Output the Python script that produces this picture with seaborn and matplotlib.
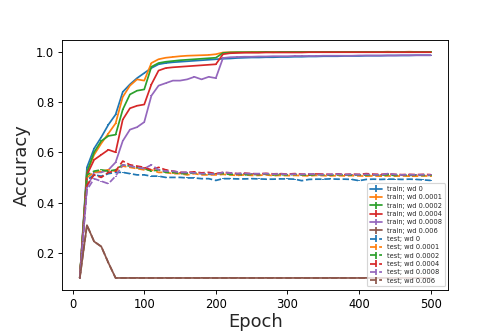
import numpy as np
import matplotlib
matplotlib.use("Agg")
import matplotlib.pyplot as plt
import seaborn as sns

epochs = np.arange(10, 501, 10)
weight_decays = ["0", "0.0001", "0.0002", "0.0004", "0.0008", "0.006"]

train_wd0 = [0.10, 0.54, 0.615, 0.66, 0.71, 0.75, 0.84, 0.87, 0.895, 0.915,
             0.935, 0.95, 0.955, 0.958, 0.96, 0.962, 0.964, 0.966, 0.968, 0.970,
             0.972, 0.973, 0.975, 0.976, 0.977, 0.977, 0.978, 0.978, 0.979, 0.979,
             0.980, 0.980, 0.981, 0.981, 0.982, 0.982, 0.982, 0.983, 0.983, 0.983,
             0.984, 0.984, 0.984, 0.985, 0.985, 0.985, 0.985, 0.986, 0.986, 0.986]
train_wd1 = [0.10, 0.52, 0.59, 0.635, 0.675, 0.715, 0.82, 0.865, 0.89, 0.885,
             0.955, 0.970, 0.976, 0.979, 0.982, 0.984, 0.985, 0.986, 0.987, 0.990,
             0.997, 0.998, 0.998, 0.998, 0.999, 0.999, 0.999, 0.999, 0.999, 0.999,
             0.999, 0.999, 0.999, 0.999, 0.999, 0.999, 0.999, 0.999, 0.999, 0.999,
             0.999, 0.999, 0.999, 1.000, 0.999, 0.999, 1.000, 0.999, 0.999, 0.999]
train_wd2 = [0.10, 0.52, 0.60, 0.645, 0.665, 0.67, 0.77, 0.83, 0.845, 0.85,
             0.94, 0.955, 0.96, 0.963, 0.966, 0.968, 0.970, 0.972, 0.974, 0.976,
             0.995, 0.997, 0.998, 0.998, 0.998, 0.998, 0.999, 0.998, 0.999, 0.999,
             0.999, 0.999, 0.999, 0.999, 0.999, 0.999, 0.999, 0.999, 0.999, 0.999,
             0.999, 0.999, 0.999, 0.999, 0.999, 0.999, 0.999, 0.999, 0.999, 0.999]
train_wd4 = [0.10, 0.51, 0.57, 0.59, 0.61, 0.60, 0.73, 0.775, 0.785, 0.79,
             0.87, 0.925, 0.935, 0.938, 0.94, 0.942, 0.944, 0.946, 0.948, 0.95,
             0.99, 0.994, 0.995, 0.996, 0.996, 0.996, 0.997, 0.997, 0.997, 0.997,
             0.997, 0.997, 0.998, 0.998, 0.998, 0.998, 0.998, 0.998, 0.998, 0.998,
             0.998, 0.998, 0.998, 0.998, 0.998, 0.998, 0.998, 0.998, 0.998, 0.998]
train_wd8 = [0.10, 0.46, 0.52, 0.52, 0.53, 0.56, 0.645, 0.69, 0.70, 0.72,
             0.825, 0.865, 0.875, 0.885, 0.885, 0.89, 0.90, 0.89, 0.90, 0.895,
             0.975, 0.978, 0.979, 0.98, 0.98, 0.981, 0.981, 0.982, 0.982, 0.982,
             0.983, 0.983, 0.983, 0.983, 0.984, 0.984, 0.984, 0.984, 0.984, 0.985,
             0.985, 0.985, 0.985, 0.985, 0.985, 0.986, 0.986, 0.986, 0.986, 0.986]
train_wd60 = [0.10, 0.31, 0.245, 0.225, 0.16, 0.10, 0.10, 0.10, 0.10, 0.10,
              0.10, 0.10, 0.10, 0.10, 0.10, 0.10, 0.10, 0.10, 0.10, 0.10,
              0.10, 0.10, 0.10, 0.10, 0.10, 0.10, 0.10, 0.10, 0.10, 0.10,
              0.10, 0.10, 0.10, 0.10, 0.10, 0.10, 0.10, 0.10, 0.10, 0.10,
              0.10, 0.10, 0.10, 0.10, 0.10, 0.10, 0.10, 0.10, 0.10, 0.10]

test_wd0 = [0.10, 0.49, 0.51, 0.505, 0.515, 0.52, 0.52, 0.515, 0.51, 0.51,
            0.505, 0.505, 0.50, 0.50, 0.50, 0.498, 0.498, 0.495, 0.495, 0.488,
            0.495, 0.495, 0.494, 0.494, 0.495, 0.494, 0.493, 0.493, 0.494, 0.494,
            0.493, 0.487, 0.492, 0.493, 0.493, 0.494, 0.493, 0.493, 0.492, 0.487,
            0.492, 0.493, 0.492, 0.493, 0.493, 0.492, 0.493, 0.492, 0.490, 0.488]
test_wd1 = [0.10, 0.50, 0.52, 0.525, 0.53, 0.525, 0.545, 0.54, 0.535, 0.53,
            0.53, 0.52, 0.52, 0.515, 0.515, 0.51, 0.515, 0.51, 0.51, 0.51,
            0.512, 0.51, 0.508, 0.51, 0.508, 0.508, 0.51, 0.507, 0.508, 0.507,
            0.508, 0.507, 0.506, 0.508, 0.507, 0.506, 0.507, 0.506, 0.507, 0.506,
            0.505, 0.506, 0.505, 0.506, 0.505, 0.506, 0.505, 0.505, 0.506, 0.505]
test_wd2 = [0.10, 0.51, 0.525, 0.53, 0.525, 0.53, 0.55, 0.545, 0.54, 0.535,
            0.525, 0.53, 0.52, 0.52, 0.515, 0.515, 0.518, 0.515, 0.512, 0.515,
            0.515, 0.512, 0.513, 0.51, 0.512, 0.511, 0.513, 0.51, 0.511, 0.51,
            0.512, 0.51, 0.509, 0.511, 0.51, 0.509, 0.511, 0.51, 0.509, 0.51,
            0.509, 0.51, 0.509, 0.51, 0.508, 0.509, 0.508, 0.509, 0.508, 0.508]
test_wd4 = [0.10, 0.47, 0.51, 0.50, 0.52, 0.525, 0.565, 0.55, 0.545, 0.54,
            0.53, 0.54, 0.53, 0.525, 0.52, 0.52, 0.522, 0.518, 0.52, 0.515,
            0.52, 0.518, 0.515, 0.517, 0.515, 0.514, 0.516, 0.514, 0.515, 0.513,
            0.515, 0.513, 0.512, 0.514, 0.513, 0.512, 0.514, 0.512, 0.513, 0.512,
            0.515, 0.513, 0.512, 0.514, 0.512, 0.511, 0.512, 0.511, 0.512, 0.511]
test_wd8 = [0.10, 0.45, 0.495, 0.485, 0.475, 0.505, 0.55, 0.545, 0.54, 0.535,
            0.55, 0.53, 0.525, 0.525, 0.52, 0.52, 0.518, 0.515, 0.515, 0.512,
            0.52, 0.518, 0.515, 0.516, 0.514, 0.515, 0.515, 0.513, 0.514, 0.512,
            0.513, 0.512, 0.514, 0.512, 0.511, 0.512, 0.513, 0.511, 0.512, 0.511,
            0.512, 0.511, 0.510, 0.515, 0.512, 0.510, 0.511, 0.510, 0.511, 0.510]
test_wd60 = [0.10, 0.31, 0.245, 0.225, 0.16, 0.10, 0.10, 0.10, 0.10, 0.10,
             0.10, 0.10, 0.10, 0.10, 0.10, 0.10, 0.10, 0.10, 0.10, 0.10,
             0.10, 0.10, 0.10, 0.10, 0.10, 0.10, 0.10, 0.10, 0.10, 0.10,
             0.10, 0.10, 0.10, 0.10, 0.10, 0.10, 0.10, 0.10, 0.10, 0.10,
             0.10, 0.10, 0.10, 0.10, 0.10, 0.10, 0.10, 0.10, 0.10, 0.10]

train_curves = [train_wd0, train_wd1, train_wd2, train_wd4, train_wd8, train_wd60]
test_curves = [test_wd0, test_wd1, test_wd2, test_wd4, test_wd8, test_wd60]
err = 0.002

sns.set_style("ticks")
colors = sns.color_palette("tab10", len(weight_decays))

fig, ax = plt.subplots(figsize=(6, 4), dpi=83)
fig.subplots_adjust(left=0.125, right=0.9, top=0.88, bottom=0.127)

for wd, acc, c in zip(weight_decays, train_curves, colors):
    ax.errorbar(epochs, acc, yerr=err, color=c, lw=1.5, label=f"train; wd {wd}")
for wd, acc, c in zip(weight_decays, test_curves, colors):
    ax.errorbar(epochs, acc, yerr=err, color=c, lw=1.5, ls="--", label=f"test; wd {wd}")

for s in ax.spines.values():
    s.set_color("black")
    s.set_linewidth(0.8)
ax.tick_params(colors="black", labelsize=10, length=3.5, width=0.8)
ax.set_xlabel("Epoch", fontsize=15.5, labelpad=2)
ax.set_ylabel("Accuracy", fontsize=15.5)
ax.set_xticks([0, 100, 200, 300, 400, 500])
ax.set_yticks([0.2, 0.4, 0.6, 0.8, 1.0])
ax.legend(loc="lower right", fontsize=5.8, handlelength=1.8, labelspacing=0.35)

plt.savefig("out.png", dpi=83)
